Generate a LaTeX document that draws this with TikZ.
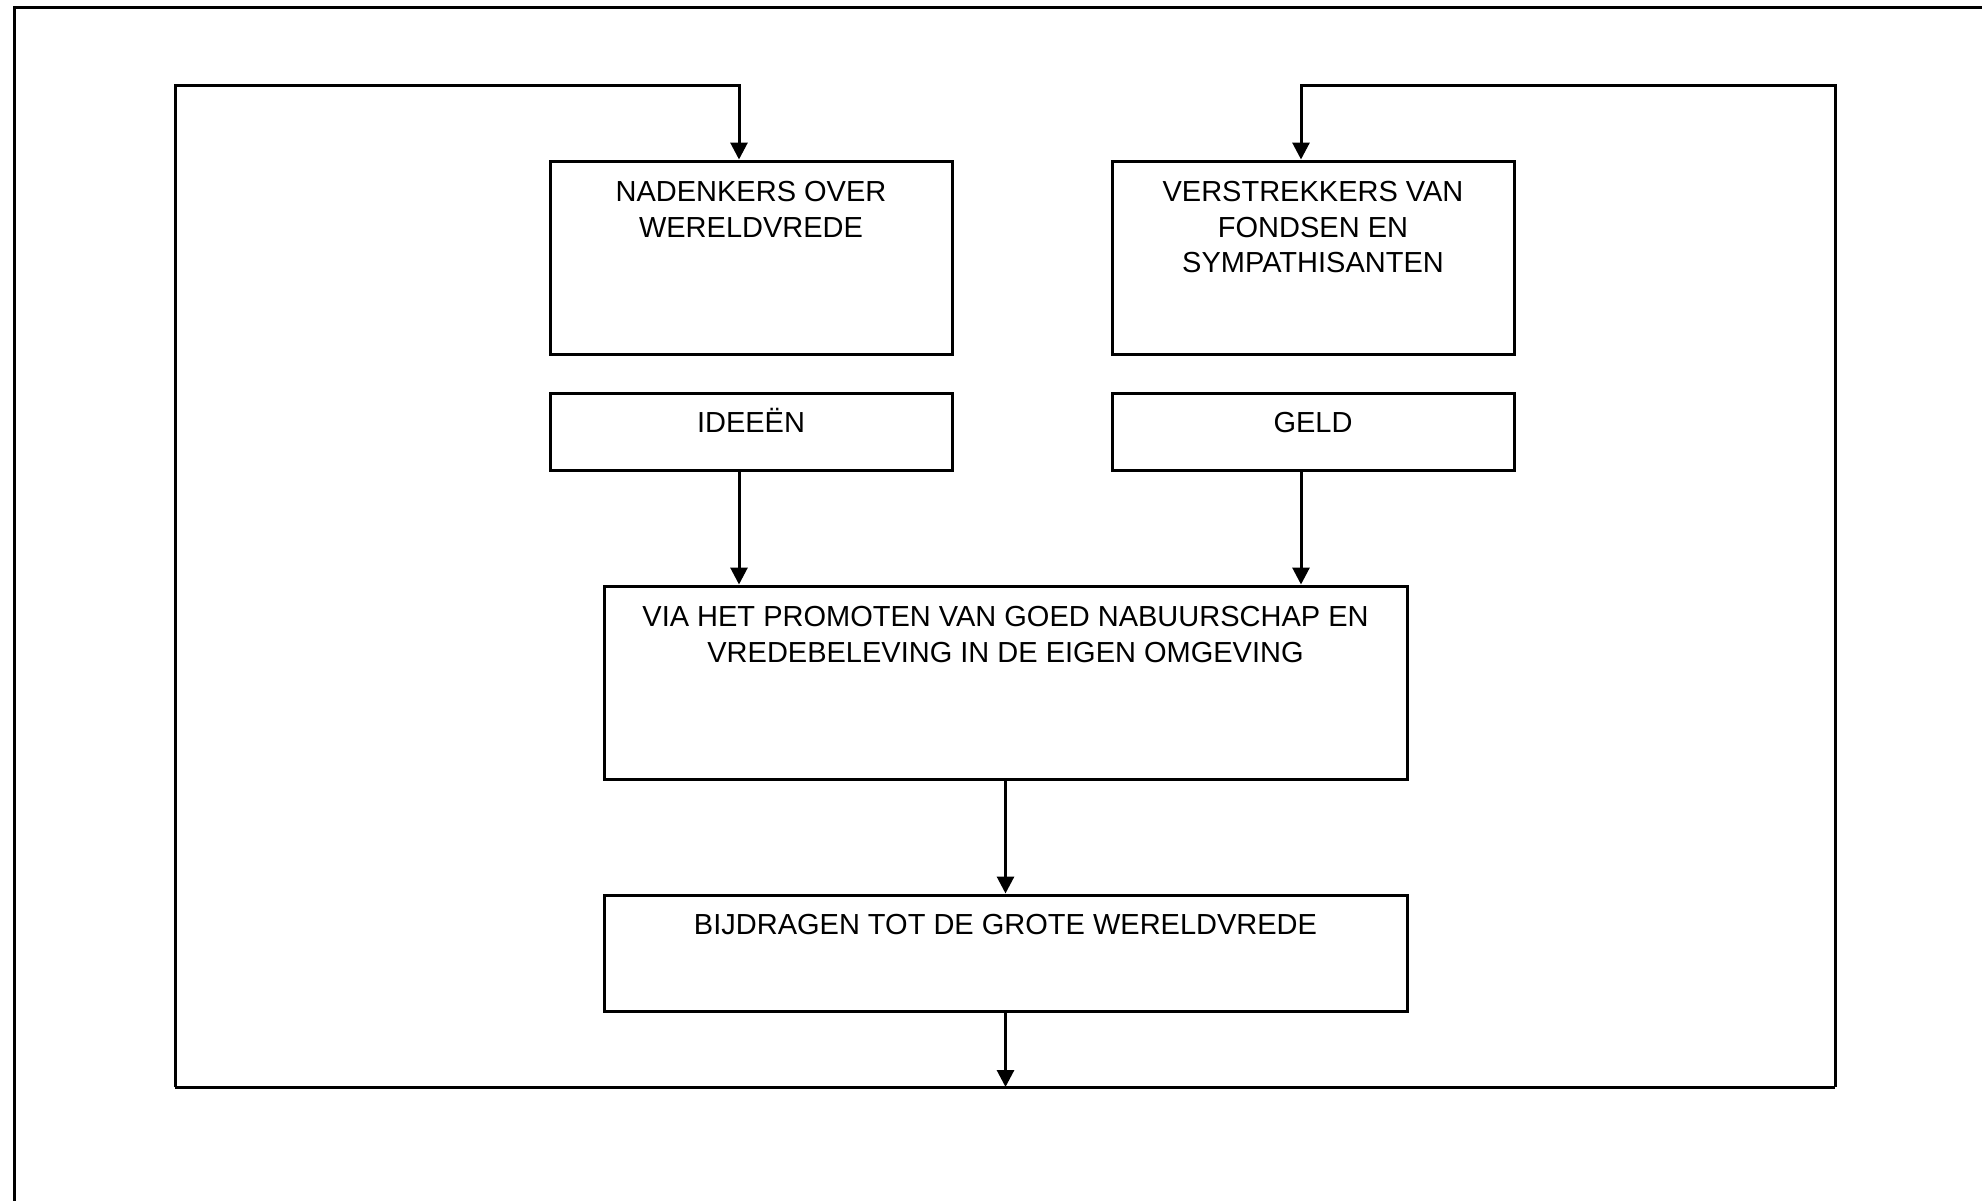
\documentclass[tikz,border=0pt]{standalone}
\usepackage{fontspec}
\setmainfont{Liberation Sans}
\usetikzlibrary{arrows.meta}

\tikzset{
    blok/.style={draw, line width=3pt, minimum width=402pt, inner sep=0pt},
    tekst/.style={anchor=north, inner sep=0pt, align=center, font=\fontsize{29}{35.5}\selectfont, execute at begin node=\strut, yshift=-16pt},
    meer/.style={yshift=-6pt},
    pijl/.style={line width=3pt, -{Triangle[width=17pt,length=17pt]}}
}

\begin{document}
\begin{tikzpicture}[x=1pt,y=-1pt]
                \useasboundingbox (0,0) rectangle (1982,1200);
                % buitenkader
                \draw[line width=3pt] (14,1210) -- (14,7) -- (1995,7);
                % blokken
                \node[blok, minimum height=193pt] (nadenkers) at (751,257.5) {};
                \node[blok, minimum height=77pt] (ideeen) at (751,431.5) {};
                \node[blok, minimum height=193pt] (verstrekkers) at (1313,257.5) {};
                \node[blok, minimum height=77pt] (geld) at (1313,431.5) {};
                \node[blok, minimum width=803pt, minimum height=193pt] (via) at (1005.5,682.5) {};
                \node[blok, minimum width=803pt, minimum height=116pt] (bijdragen) at (1005.5,953) {};
                \node[tekst, meer] (t1) at (nadenkers.north) {NADENKERS OVER\\WERELDVREDE};
                \node[tekst] (t2) at (ideeen.north) {IDEEËN};
                \node[tekst, meer] (t3) at (verstrekkers.north) {VERSTREKKERS VAN\\FONDSEN EN\\SYMPATHISANTEN};
                \node[tekst] (t4) at (geld.north) {GELD};
                \node[tekst, meer] (t5) at (via.north) {VIA HET PROMOTEN VAN GOED NABUURSCHAP EN\\VREDEBELEVING IN DE EIGEN OMGEVING};
                \node[tekst] (t6) at (bijdragen.north) {BIJDRAGEN TOT DE GROTE WERELDVREDE};
                % lus
                \coordinate (lo) at (175,1087);
                \coordinate (ro) at (1835,1087);
                \coordinate (lb) at (175,85);
                \coordinate (rb) at (1835,85);
                \draw[line width=3pt] (lo) -- (ro);
                \draw[pijl] (lo) -- (lb) -| ([xshift=-12pt]nadenkers.north);
                \draw[pijl] (ro) -- (rb) -| ([xshift=-12pt]verstrekkers.north);
                % pijlen
                \draw[pijl] ([xshift=-12pt]ideeen.south) -- ([xshift=-12pt]ideeen.south |- via.north);
                \draw[pijl] ([xshift=-12pt]geld.south) -- ([xshift=-12pt]geld.south |- via.north);
                \draw[pijl] (via.south) -- (bijdragen.north);
                \draw[pijl] (bijdragen.south) -- (bijdragen.south |- lo);
\end{tikzpicture}
\end{document}
